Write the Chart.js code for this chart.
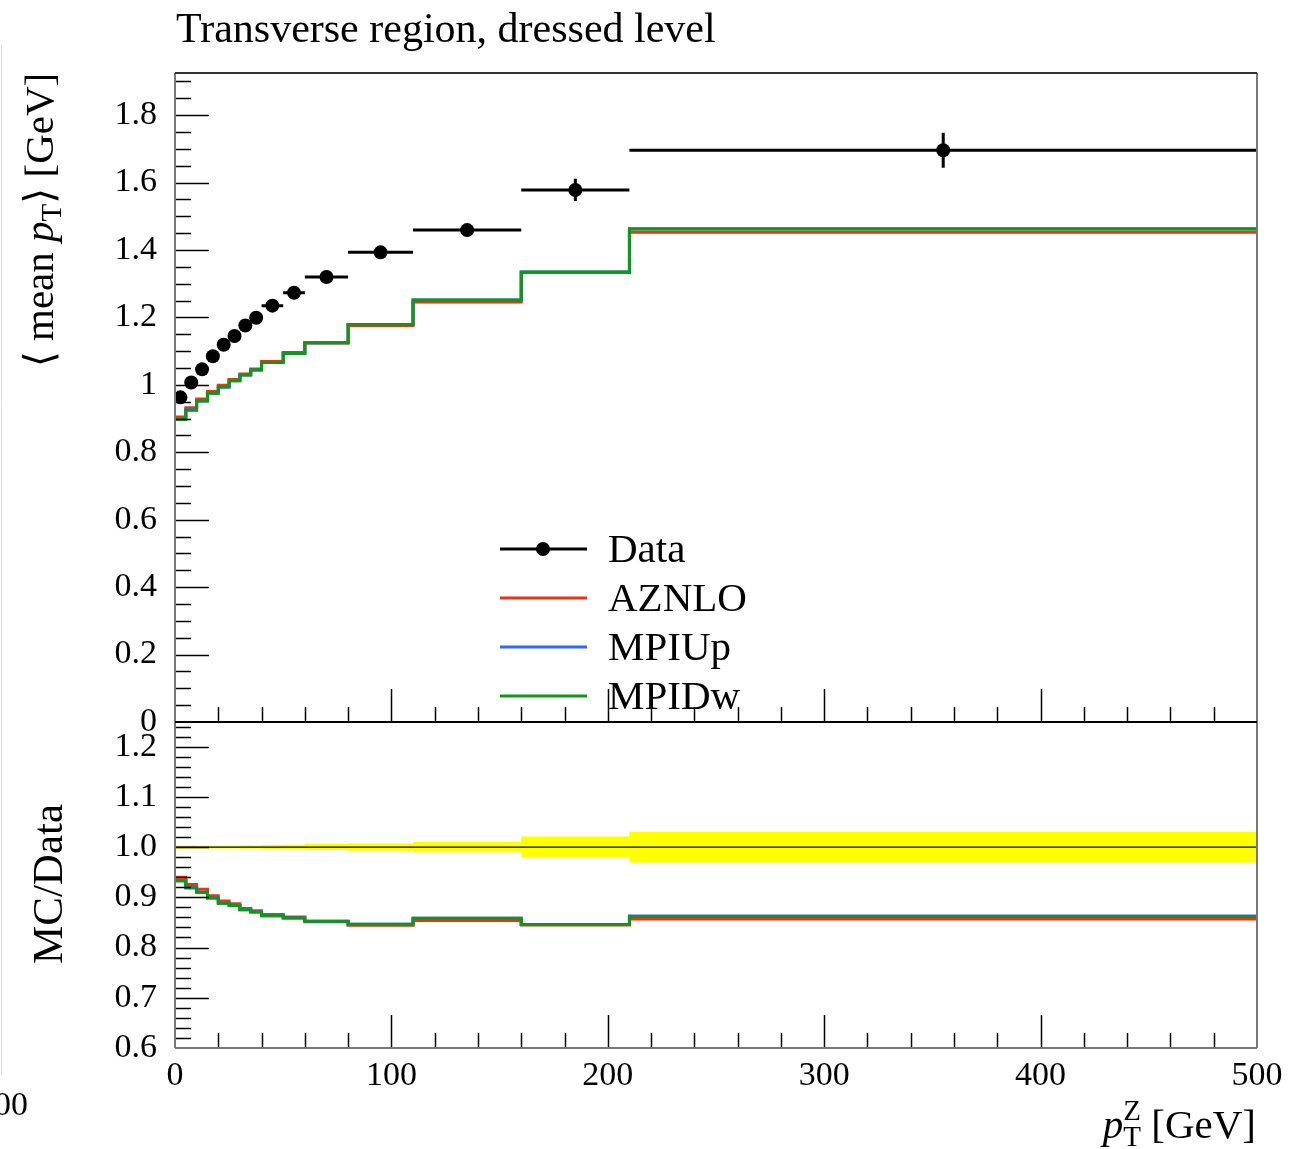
<!DOCTYPE html>
<html><head><meta charset="utf-8">
<script src="https://cdn.jsdelivr.net/npm/chart.js@4/dist/chart.umd.min.js"></script>
<style>
html,body{margin:0;padding:0;background:#fff;}
body{width:1311px;height:1149px;position:relative;overflow:hidden;}
#c1{position:absolute;left:0;top:0;}
#c2{position:absolute;left:0;top:700px;}
</style></head><body>
<canvas id="c1" width="1311" height="760"></canvas>
<canvas id="c2" width="1311" height="449"></canvas>
<script>
// ---------------- data ----------------
const binEdges    = [0,5,10,15,20,25,30,35,40,50,60,80,110,160,210,500];
const dataValues  = [0.963,1.007,1.046,1.085,1.119,1.145,1.176,1.199,1.235,1.273,1.320,1.393,1.459,1.578,1.696];
const dataErrors  = [0.003,0.003,0.003,0.003,0.003,0.003,0.004,0.004,0.005,0.006,0.008,0.010,0.015,0.033,0.052];
const aznloValues = [0.905,0.932,0.958,0.980,0.999,1.016,1.032,1.047,1.069,1.096,1.124,1.176,1.246,1.333,1.453];
const mpiUpValues = [0.899,0.926,0.952,0.975,0.994,1.012,1.029,1.044,1.066,1.093,1.125,1.179,1.252,1.335,1.463];
const mpiDwValues = [0.898,0.925,0.952,0.975,0.994,1.012,1.029,1.044,1.066,1.093,1.125,1.179,1.252,1.335,1.462];
const seriesNames  = ['Data','AZNLO','MPIUp','MPIDw'];
const seriesColors = ['#000000','#EE3311','#3366FF','#109618'];
const mainTicks      = [0,0.2,0.4,0.6,0.8,1,1.2,1.4,1.6,1.8];
const mainTickLabels = ['0','0.2','0.4','0.6','0.8','1','1.2','1.4','1.6','1.8'];
const ratioTicks      = [0.6,0.7,0.8,0.9,1.0,1.1,1.2];
const ratioTickLabels = ['0.6','0.7','0.8','0.9','1.0','1.1','1.2'];
const xTicks      = [0,100,200,300,400,500];
const xTickLabels = ['0','100','200','300','400','500'];
const titleText = 'Transverse region, dressed level';

// ---------------- helpers ----------------
const SERIF = "'Liberation Serif','DejaVu Serif',serif";
const nB = binEdges.length - 1;
function stepPoints(vals){
  const pts = vals.map((v,i)=>({x:binEdges[i], y:v}));
  pts.push({x:binEdges[nB], y:vals[vals.length-1]});
  return pts;
}
const centers = dataValues.map((v,i)=>({x:(binEdges[i]+binEdges[i+1])/2, y:v}));
const ratioOf = arr => arr.map((v,i)=>v/dataValues[i]);
const relErr = dataErrors.map((e,i)=>e/dataValues[i]);

function runsWidth(ctx, runs){
  let w=0; for(const r of runs){ctx.font=r.font; w+=ctx.measureText(r.t).width;} return w;
}
function drawRuns(ctx, runs, x, y){
  let cx=x;
  for(const r of runs){ctx.font=r.font; ctx.fillText(r.t, cx, y+(r.dy||0)); cx+=ctx.measureText(r.t).width;}
}
function drawFrameAndTicks(ctx, chart, yMinor, yMajor, opts){
  const a = chart.chartArea, xs = chart.scales.x, ys = chart.scales.y;
  ctx.save();
  ctx.strokeStyle = '#000'; ctx.lineWidth = 1.5;
  ctx.beginPath();
  for(const v of yMinor){ const p = Math.round(ys.getPixelForValue(v))+0.5; if(p<a.top+1||p>a.bottom-1) continue; ctx.moveTo(a.left, p); ctx.lineTo(a.left+16, p); }
  for(const v of yMajor){ const p = Math.round(ys.getPixelForValue(v))+0.5; if(p<a.top+1||p>a.bottom-1) continue; ctx.moveTo(a.left, p); ctx.lineTo(a.left+34, p); }
  for(let v=20; v<500; v+=20){ const p = Math.round(xs.getPixelForValue(v))+0.5; const L = (v%100===0)?33:15; ctx.moveTo(p, a.bottom); ctx.lineTo(p, a.bottom-L); }
  ctx.stroke();
  ctx.lineWidth = 2;
  ctx.strokeStyle = '#777';
  ctx.beginPath(); ctx.moveTo(a.left, a.top); ctx.lineTo(a.left, a.bottom); ctx.stroke();
  ctx.beginPath(); ctx.moveTo(a.right, a.top); ctx.lineTo(a.right, a.bottom); ctx.stroke();
  if(opts.topColor){ ctx.strokeStyle = opts.topColor;
    ctx.beginPath(); ctx.moveTo(a.left, a.top); ctx.lineTo(a.right, a.top); ctx.stroke(); }
  ctx.strokeStyle = opts.bottomColor;
  ctx.beginPath(); ctx.moveTo(a.left, a.bottom); ctx.lineTo(a.right, a.bottom); ctx.stroke();
  ctx.restore();
}
function range(a,b,s){const out=[]; for(let i=0;;i++){const v=+(a+i*s).toFixed(6); if(v>b+1e-9)break; out.push(v);} return out;}
function noPad(s){ s.paddingTop=0; s.paddingBottom=0; s.paddingLeft=0; s.paddingRight=0; }

// ---------------- main panel ----------------
const mainPlugin = {
  id:'mainDeco',
  afterDatasetsDraw(chart){
    const ctx = chart.ctx, xs = chart.scales.x, ys = chart.scales.y;
    ctx.save(); ctx.strokeStyle='#000'; ctx.lineWidth=3; ctx.lineCap='butt';
    dataValues.forEach((v,i)=>{
      const x1 = xs.getPixelForValue(binEdges[i]), x2 = xs.getPixelForValue(binEdges[i+1]);
      const xc = xs.getPixelForValue(centers[i].x), y = ys.getPixelForValue(v);
      ctx.beginPath(); ctx.moveTo(x1,y); ctx.lineTo(x2,y);
      ctx.moveTo(xc, ys.getPixelForValue(v-dataErrors[i])); ctx.lineTo(xc, ys.getPixelForValue(v+dataErrors[i]));
      ctx.stroke();
    });
    ctx.restore();
    drawFrameAndTicks(ctx, chart, range(0,1.9,0.05), mainTicks, {topColor:'#333', bottomColor:'#000'});
    ctx.save(); ctx.fillStyle='#000'; ctx.textBaseline='alphabetic';
    ctx.font = '42px '+SERIF; ctx.fillText(titleText, 176, 42);
    seriesNames.forEach((name,i)=>{
      const y = 549 + i*49;
      ctx.strokeStyle = seriesColors[i]; ctx.lineWidth = 3;
      ctx.beginPath(); ctx.moveTo(500,y); ctx.lineTo(587,y); ctx.stroke();
      if(i===0){ ctx.fillStyle='#000'; ctx.beginPath(); ctx.arc(543,y,7,0,Math.PI*2); ctx.fill(); }
      ctx.fillStyle='#000'; ctx.font='41px '+SERIF; ctx.fillText(name, 608, y+13);
    });
    ctx.translate(53, 220); ctx.rotate(-Math.PI/2);
    const runs = [
      {t:'\u27E8 mean ', font:'41px '+SERIF},
      {t:'p', font:'italic 41px '+SERIF},
      {t:'T', font:'29px '+SERIF, dy:8},
      {t:'\u27E9 [GeV]', font:'41px '+SERIF}
    ];
    const w = runsWidth(ctx, runs);
    drawRuns(ctx, runs, -w/2, 0);
    ctx.restore();
    ctx.save(); ctx.strokeStyle='#ddd'; ctx.lineWidth=1; ctx.beginPath(); ctx.moveTo(1.5,45); ctx.lineTo(1.5,760); ctx.stroke(); ctx.restore();
  }
};

new Chart(document.getElementById('c1'), {
  type:'line',
  data:{datasets:[
    {label:'Data', data:centers, showLine:false, pointRadius:7, pointHoverRadius:7, pointBackgroundColor:'#000', pointBorderWidth:0, borderColor:'#000', order:0},
    {label:'MPIDw', data:stepPoints(mpiDwValues), stepped:true, borderColor:seriesColors[3], borderWidth:3, pointRadius:0, fill:false, order:1},
    {label:'MPIUp', data:stepPoints(mpiUpValues), stepped:true, borderColor:seriesColors[2], borderWidth:3, pointRadius:0, fill:false, order:2},
    {label:'AZNLO', data:stepPoints(aznloValues), stepped:true, borderColor:seriesColors[1], borderWidth:3, pointRadius:0, fill:false, order:3}
  ]},
  options:{
    responsive:false, animation:false, devicePixelRatio:1,
    layout:{padding:{left:0,right:54,top:73,bottom:38}},
    plugins:{legend:{display:false}, tooltip:{enabled:false}, title:{display:false}},
    scales:{
      x:{type:'linear', min:0, max:500, display:false},
      y:{type:'linear', min:0, max:1.925,
         afterFit(s){ s.width = 175; noPad(s); },
         afterBuildTicks(s){ s.ticks = mainTicks.map(v=>({value:v})); },
         ticks:{callback:(v,i)=>mainTickLabels[i], font:{family:SERIF, size:34}, color:'#000', padding:18},
         grid:{display:false, drawTicks:false}, border:{display:false}}
    }
  },
  plugins:[mainPlugin]
});

// ---------------- ratio panel ----------------
const ratioPlugin = {
  id:'ratioDeco',
  afterDatasetsDraw(chart){
    const ctx = chart.ctx;
    drawFrameAndTicks(ctx, chart, range(0.6,1.24,0.02), ratioTicks, {topColor:'#000', bottomColor:'#777'});
    ctx.save(); ctx.fillStyle='#000';
    ctx.save(); ctx.translate(62, 884-700); ctx.rotate(-Math.PI/2);
    ctx.font='43px '+SERIF; ctx.textAlign='center'; ctx.fillText('MC/Data', 0, 0);
    ctx.restore();
    const runs = [
      {t:'p', font:'italic 41px '+SERIF},
      {t:'T', font:'29px '+SERIF, dy:8},
      {t:' [GeV]', font:'41px '+SERIF}
    ];
    const w = runsWidth(ctx, runs);
    drawRuns(ctx, runs, 1256 - w, 1138-700);
    ctx.font='italic 41px '+SERIF; const pw = ctx.measureText('p').width;
    ctx.font='29px '+SERIF; ctx.fillText('Z', 1256 - w + pw, 1138-700-18);
    ctx.font='34px '+SERIF; ctx.textAlign='right'; ctx.fillText('00', 28, 1115-700);
    ctx.restore();
    ctx.save(); ctx.strokeStyle='#ddd'; ctx.lineWidth=1; ctx.beginPath(); ctx.moveTo(1.5,0); ctx.lineTo(1.5,1075-700); ctx.stroke(); ctx.restore();
  }
};

new Chart(document.getElementById('c2'), {
  type:'line',
  data:{datasets:[
    {label:'bandUp', data:stepPoints(relErr.map(r=>1+r)), stepped:true, borderWidth:0, borderColor:'rgba(0,0,0,0)', pointRadius:0, fill:false, order:20},
    {label:'bandDown', data:stepPoints(relErr.map(r=>1-r)), stepped:true, borderWidth:0, borderColor:'rgba(0,0,0,0)', pointRadius:0, fill:'-1', backgroundColor:'#FFFF00', order:19},
    {label:'unity', data:[{x:binEdges[0], y:1},{x:binEdges[nB], y:1}], borderColor:'#000', borderWidth:1.2, pointRadius:0, fill:false, order:10},
    {label:'AZNLO', data:stepPoints(ratioOf(aznloValues)), stepped:true, borderColor:seriesColors[1], borderWidth:3, pointRadius:0, fill:false, order:3},
    {label:'MPIUp', data:stepPoints(ratioOf(mpiUpValues)), stepped:true, borderColor:seriesColors[2], borderWidth:3, pointRadius:0, fill:false, order:2},
    {label:'MPIDw', data:stepPoints(ratioOf(mpiDwValues)), stepped:true, borderColor:seriesColors[3], borderWidth:3, pointRadius:0, fill:false, order:1}
  ]},
  options:{
    responsive:false, animation:false, devicePixelRatio:1,
    layout:{padding:{left:0,right:54,top:22,bottom:0}},
    plugins:{legend:{display:false}, tooltip:{enabled:false}, title:{display:false}, filler:{propagate:false}},
    scales:{
      x:{type:'linear', min:0, max:500,
         afterFit(s){ s.height = 101; noPad(s); },
         afterBuildTicks(s){ s.ticks = xTicks.map(v=>({value:v})); },
         ticks:{callback:(v,i)=>xTickLabels[i], font:{family:SERIF, size:34}, color:'#000', padding:8, maxRotation:0, autoSkip:false},
         grid:{display:false, drawTicks:false}, border:{display:false}},
      y:{type:'linear', min:0.6, max:1.249,
         afterFit(s){ s.width = 175; noPad(s); },
         afterBuildTicks(s){ s.ticks = ratioTicks.map(v=>({value:v})); },
         ticks:{callback:(v,i)=>ratioTickLabels[i], font:{family:SERIF, size:34}, color:'#000', padding:18},
         grid:{display:false, drawTicks:false}, border:{display:false}}
    }
  },
  plugins:[ratioPlugin]
});
</script>
</body></html>
